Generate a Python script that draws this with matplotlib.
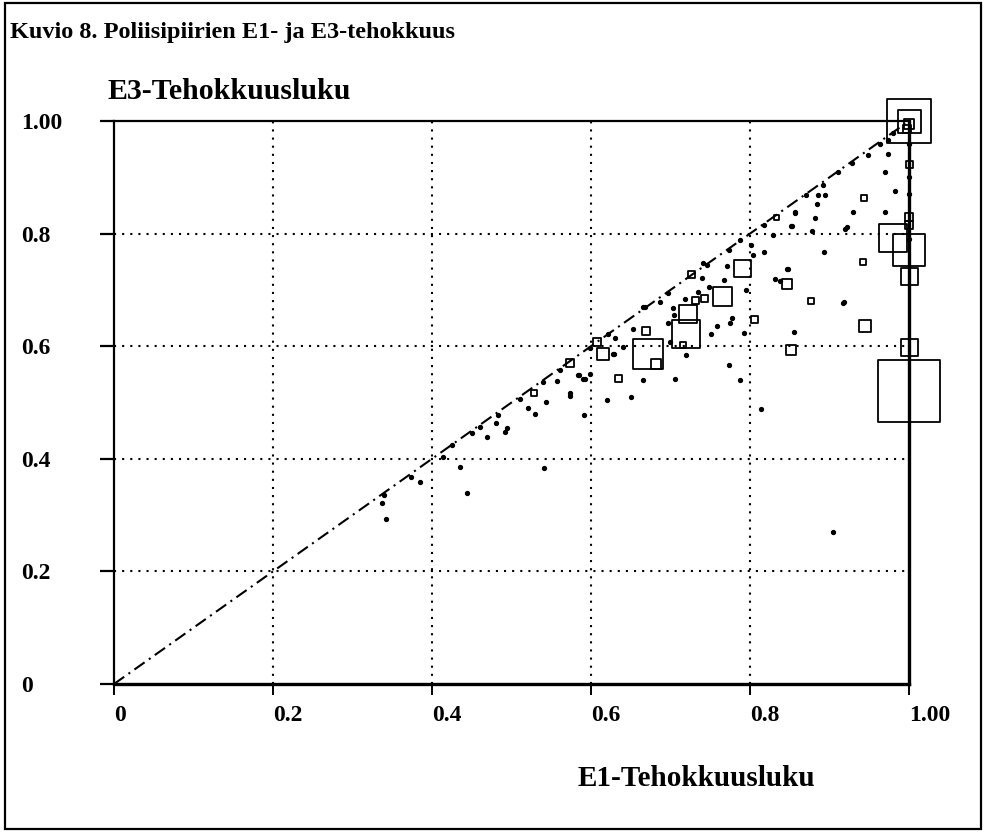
import matplotlib
matplotlib.use("Agg")
import matplotlib.pyplot as plt
from matplotlib.patches import Rectangle

# ---------------- data ----------------
title = "Kuvio 8. Poliisipiirien E1- ja E3-tehokkuus"
y_title = "E3-Tehokkuusluku"
x_title = "E1-Tehokkuusluku"
x_ticks = [0, 0.2, 0.4, 0.6, 0.8, 1.0]
x_tick_labels = ["0", "0.2", "0.4", "0.6", "0.8", "1.00"]
y_ticks = [0, 0.2, 0.4, 0.6, 0.8, 1.0]
y_tick_labels = ["0", "0.2", "0.4", "0.6", "0.8", "1.00"]

# open squares: E1, E3, relative size (square side)
sq_e1 = [1.000, 1.000, 1.000, 0.998, 1.000, 1.000, 1.000, 0.980, 1.000, 1.000,
         1.000, 1.000, 0.943, 0.942, 0.945, 0.877, 0.846, 0.851, 0.806, 0.790,
         0.765, 0.722, 0.720, 0.732, 0.743, 0.716, 0.672, 0.682, 0.669, 0.634,
         0.615, 0.607, 0.574, 0.727, 0.833, 0.528]
sq_e3 = [1.000, 1.000, 0.995, 0.985, 0.922, 0.830, 0.815, 0.792, 0.770, 0.723,
         0.598, 0.521, 0.864, 0.749, 0.636, 0.680, 0.710, 0.594, 0.648, 0.738,
         0.688, 0.658, 0.621, 0.682, 0.684, 0.603, 0.586, 0.568, 0.627, 0.542,
         0.586, 0.607, 0.570, 0.728, 0.829, 0.516]
sq_size = [44, 23, 10, 8, 7, 8, 8, 28, 32, 17,
           17, 62, 6, 6, 12, 6, 10, 10, 7, 17,
           19, 18, 28, 7, 7, 6, 30, 10, 8, 7,
           12, 8, 8, 7, 5, 6]

# small dots: E1, E3
dot_e1 = [1.000, 1.000, 1.000, 1.000, 0.974, 0.974, 0.970, 0.982, 0.970, 0.930,
          0.920, 0.918, 0.893, 0.878, 0.853, 0.884, 0.882, 0.894, 0.892, 0.857,
          0.829, 0.817, 0.804, 0.801, 0.848, 0.831, 0.838, 0.855, 0.793, 0.795,
          0.771, 0.767, 0.775, 0.777, 0.758, 0.751, 0.739, 0.734, 0.749, 0.720,
          0.773, 0.787, 0.706, 0.665, 0.650, 0.620, 0.574, 0.591, 0.814, 0.697,
          0.703, 0.704, 0.699, 0.640, 0.629, 0.584, 0.599, 0.590, 0.653, 0.687,
          0.668, 0.718, 0.628, 0.630, 0.557, 0.573, 0.585, 0.592, 0.544, 0.521,
          0.530, 0.481, 0.494, 0.492, 0.469, 0.435, 0.541, 0.444, 0.385, 0.373,
          0.339, 0.337, 0.342, 0.904, 0.917, 0.922, 0.886, 0.856, 0.852, 0.847,
          0.818, 0.871, 0.911, 0.928, 0.949, 0.964, 0.980, 0.414, 0.425, 0.450,
          0.461, 0.483, 0.511, 0.540, 0.561, 0.599, 0.622, 0.666, 0.697, 0.741,
          0.773, 0.787, 0.746]
dot_e3 = [0.960, 0.900, 0.870, 0.790, 0.966, 0.941, 0.910, 0.876, 0.838, 0.838,
          0.809, 0.679, 0.767, 0.805, 0.813, 0.853, 0.827, 0.869, 0.886, 0.837,
          0.797, 0.767, 0.762, 0.780, 0.738, 0.719, 0.715, 0.626, 0.623, 0.700,
          0.743, 0.718, 0.642, 0.650, 0.635, 0.622, 0.721, 0.697, 0.706, 0.584,
          0.567, 0.540, 0.541, 0.540, 0.509, 0.504, 0.511, 0.478, 0.488, 0.641,
          0.667, 0.655, 0.607, 0.599, 0.587, 0.549, 0.550, 0.541, 0.630, 0.679,
          0.670, 0.683, 0.587, 0.614, 0.538, 0.516, 0.549, 0.542, 0.501, 0.491,
          0.480, 0.463, 0.454, 0.448, 0.438, 0.385, 0.383, 0.340, 0.359, 0.368,
          0.336, 0.322, 0.293, 0.270, 0.677, 0.812, 0.869, 0.838, 0.813, 0.738,
          0.816, 0.869, 0.909, 0.925, 0.939, 0.960, 0.979, 0.404, 0.424, 0.445,
          0.457, 0.478, 0.507, 0.537, 0.558, 0.596, 0.622, 0.670, 0.694, 0.748,
          0.771, 0.789, 0.744]

diag_x = [0.0, 1.0]
diag_y = [0.0, 1.0]

# ---------------- figure ----------------
W, H = 984, 834
fig = plt.figure(figsize=(W / 100, H / 100), dpi=100)
FONT = "Liberation Serif"

x0_px, x1_px = 114, 909
y0_px, y1_px = 684, 121
ax = fig.add_axes([x0_px / W, (H - y0_px) / H, (x1_px - x0_px) / W, (y0_px - y1_px) / H])
ax.set_xlim(0, 1)
ax.set_ylim(0, 1)
ax.set_facecolor("none")

# spines
for side, lw in [("left", 1.6), ("bottom", 2.4), ("top", 1.6), ("right", 2.4)]:
    ax.spines[side].set_linewidth(lw)
    ax.spines[side].set_color("black")

# grid (dotted) at inner ticks
for v in [0.2, 0.4, 0.6, 0.8]:
    ax.plot([v, v], [0, 1], color="black", lw=1.5, ls=(0, (1, 2.9)), zorder=1)
    ax.plot([0, 1], [v, v], color="black", lw=1.5, ls=(0, (1, 2.9)), zorder=1)

# ticks
ax.set_xticks(x_ticks)
ax.set_xticklabels(x_tick_labels)
ax.set_yticks(y_ticks)
ax.set_yticklabels(y_tick_labels)
ax.tick_params(axis="x", direction="out", length=8, width=1.4, pad=7,
               labelsize=17)
ax.tick_params(axis="y", direction="out", length=10, width=1.6, pad=57,
               labelsize=17)
for lab in ax.get_xticklabels():
    lab.set_ha("left")
    lab.set_fontfamily(FONT)
    lab.set_fontweight("bold")
for lab in ax.get_yticklabels():
    lab.set_ha("left")
    lab.set_fontfamily(FONT)
    lab.set_fontweight("bold")

# diagonal dash-dot line
ax.plot(diag_x, diag_y, color="black", lw=1.5, ls=(0, (6, 2.5, 1, 2.5)), zorder=2)

# dots
ax.plot(dot_e1, dot_e3, ls="none", marker="o", ms=2.8, color="black",
        clip_on=False, zorder=3)

# squares
sizes = [(s * 0.72) ** 2 for s in sq_size]
ax.scatter(sq_e1, sq_e3, s=sizes, marker="s", facecolors="none",
           edgecolors="black", linewidths=1.3, clip_on=False, zorder=4)

# texts
fig.text(10 / W, 1 - 38 / H, title, fontsize=17.5, fontfamily=FONT,
         fontweight="bold", ha="left", va="baseline")
fig.text(107 / W, 1 - 99 / H, y_title, fontsize=21.5, fontfamily=FONT,
         fontweight="bold", ha="left", va="baseline")
fig.text(578 / W, 1 - 786 / H, x_title, fontsize=21, fontfamily=FONT,
         fontweight="bold", ha="left", va="baseline")

# outer frame
fig.patches.append(Rectangle((5 / W, 5 / H), 976 / W, 826 / H, transform=fig.transFigure,
                             fill=False, lw=1.6, edgecolor="black"))

fig.savefig("out.png", dpi=100, facecolor="white")
